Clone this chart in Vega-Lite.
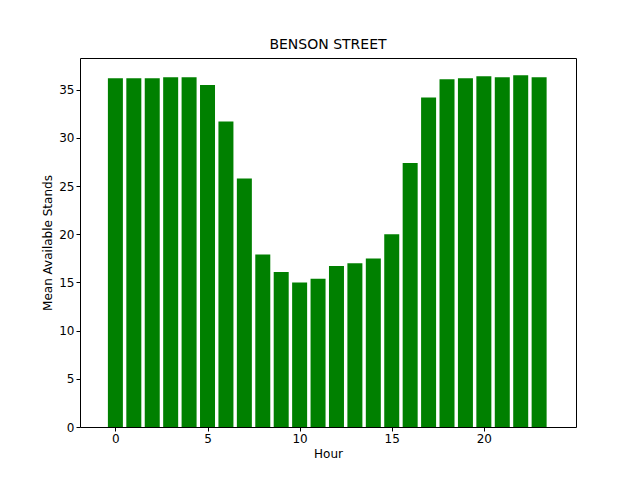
{
  "$schema": "https://vega.github.io/schema/vega-lite/v6.json",
  "autosize": {"type": "none"},
  "padding": {"left": 80, "top": 58, "right": 64, "bottom": 53},
  "width": 496,
  "height": 369,
  "background": "white",
  "config": {
    "font": "DejaVu Sans",
    "view": {"stroke": "black", "strokeWidth": 1},
    "axis": {
      "grid": false,
      "domainColor": "black",
      "tickColor": "black",
      "labelColor": "black",
      "titleColor": "black",
      "labelFontSize": 12,
      "titleFontSize": 12,
      "titleFontWeight": "normal",
      "labelFont": "DejaVu Sans",
      "titleFont": "DejaVu Sans",
      "tickSize": 4
    },
    "title": {"font": "DejaVu Sans", "fontSize": 14, "fontWeight": "normal", "color": "black", "offset": 6}
  },
  "title": "BENSON STREET",
  "data": {
    "values": [
      {"Hour": 0, "Stands": 36.2}, {"Hour": 1, "Stands": 36.2}, {"Hour": 2, "Stands": 36.2},
      {"Hour": 3, "Stands": 36.3}, {"Hour": 4, "Stands": 36.3}, {"Hour": 5, "Stands": 35.5},
      {"Hour": 6, "Stands": 31.7}, {"Hour": 7, "Stands": 25.8}, {"Hour": 8, "Stands": 17.9},
      {"Hour": 9, "Stands": 16.1}, {"Hour": 10, "Stands": 15.0}, {"Hour": 11, "Stands": 15.4},
      {"Hour": 12, "Stands": 16.7}, {"Hour": 13, "Stands": 17.0}, {"Hour": 14, "Stands": 17.5},
      {"Hour": 15, "Stands": 20.0}, {"Hour": 16, "Stands": 27.4}, {"Hour": 17, "Stands": 34.2},
      {"Hour": 18, "Stands": 36.1}, {"Hour": 19, "Stands": 36.2}, {"Hour": 20, "Stands": 36.4},
      {"Hour": 21, "Stands": 36.3}, {"Hour": 22, "Stands": 36.5}, {"Hour": 23, "Stands": 36.3}
    ]
  },
  "mark": {"type": "bar", "color": "green", "size": 15},
  "encoding": {
    "x": {
      "field": "Hour", "type": "quantitative", "title": "Hour",
      "scale": {"domain": [-1.65, 24.73], "nice": false, "zero": false},
      "axis": {"values": [0, 5, 10, 15, 20], "domain": false}
    },
    "y": {
      "field": "Stands", "type": "quantitative", "title": "Mean Available Stands",
      "scale": {"domain": [0, 38.3], "nice": false},
      "axis": {"values": [0, 5, 10, 15, 20, 25, 30, 35], "domain": false}
    }
  }
}
